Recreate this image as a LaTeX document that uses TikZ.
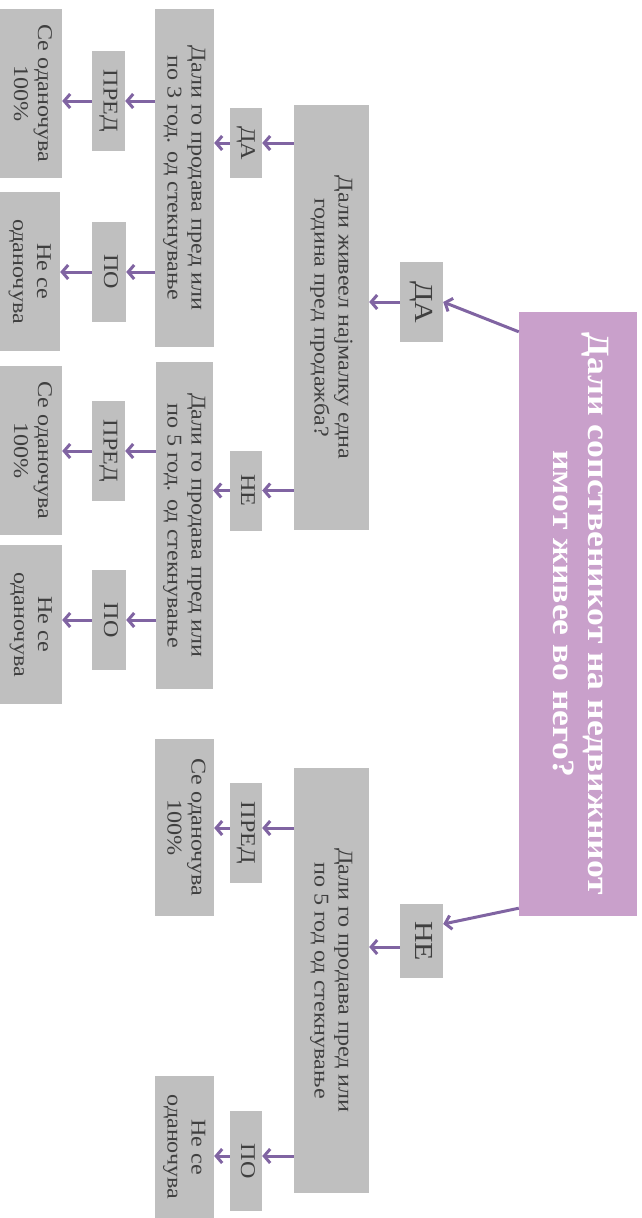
\documentclass[tikz,border=0pt]{standalone}
\usepackage{fontspec}
\setmainfont[FakeStretch=1.15]{Liberation Serif}
\usetikzlibrary{arrows.meta}
\definecolor{boxgray}{HTML}{BFBFBF}
\definecolor{txtgray}{HTML}{3F3F3F}
\definecolor{rootfill}{HTML}{C9A0CB}
\definecolor{arrcol}{HTML}{8064A2}
\newcommand{\vtext}[1]{\rotatebox{-90}{\begin{tabular}{@{}c@{}}#1\end{tabular}}}
\tikzset{
  gbox/.style={fill=boxgray, inner sep=0pt, text=txtgray, font=\fontsize{21}{24}\selectfont},
  lbl/.style={gbox, font=\fontsize{21}{24}\selectfont},
  biglbl/.style={gbox, font=\fontsize{26}{28}\selectfont},
  rootbox/.style={fill=rootfill, inner sep=0pt, text=white, font=\fontsize{31}{35}\selectfont\bfseries},
  arr/.style={draw=arrcol, line width=3pt, -{Straight Barb[length=6pt,width=14pt]}},
}
\newcommand{\bx}[7]{\node[#1, minimum width=#5pt, minimum height=#6pt] (#2) at (#3,#4) {\vtext{#7}};}
\begin{document}
\begin{tikzpicture}[x=1pt,y=-1pt]
\useasboundingbox (0,0) rectangle (642,1218);
\bx{rootbox}{root}{578}{614}{118}{604}{Дали сопственикот на недвижниот\\имот живее во него?}
\bx{biglbl}{da1}{421.5}{302}{43}{80}{ДА}
\bx{biglbl}{ne1}{421.5}{941}{43}{74}{НЕ}
\bx{gbox}{q1}{331.5}{317.5}{75}{425}{Дали живеел најмалку една\\година пред продажба?}
\bx{gbox}{q2}{331.5}{980.5}{75}{425}{Дали го продава пред или\\по 5 год од стекнување}
\bx{lbl}{da3}{246}{143}{32}{70}{ДА}
\bx{lbl}{ne3}{246}{490.5}{32}{80}{НЕ}
\bx{gbox}{q3}{184.5}{178}{59}{338}{Дали го продава пред или\\по 3 год. од стекнување}
\bx{gbox}{q4}{184.5}{525.5}{57}{327}{Дали го продава пред или\\по 5 год. од стекнување}
\bx{lbl}{p1}{108.5}{101}{33}{100}{ПРЕД}
\bx{lbl}{o1}{109}{272}{34}{100}{ПО}
\bx{gbox}{l1}{31}{93.5}{62}{169}{Се оданочува\\100\%}
\bx{gbox}{l2}{30}{271.5}{60}{159}{Не се\\оданочува}
\bx{lbl}{p2}{108.5}{451}{33}{100}{ПРЕД}
\bx{lbl}{o2}{109}{620}{34}{100}{ПО}
\bx{gbox}{l3}{31}{450.5}{62}{169}{Се оданочува\\100\%}
\bx{gbox}{l4}{31}{624.5}{62}{159}{Не се\\оданочува}
\bx{lbl}{p3}{246}{833}{32}{100}{ПРЕД}
\bx{lbl}{o3}{246}{1161}{32}{100}{ПО}
\bx{gbox}{l5}{184.5}{827.5}{59}{177}{Се оданочува\\100\%}
\bx{gbox}{l6}{184.5}{1147}{59}{142}{Не се\\оданочува}
% anchor helpers
\coordinate (rtA) at ([yshift=-20pt]root.north west);
\coordinate (rtB) at ([yshift=8pt]root.south west);
\coordinate (neIn) at ([yshift=17pt]ne1.east);
\coordinate (neOut) at ([yshift=-6pt]ne1.west);
\coordinate (p3in) at ([yshift=5pt]p3.east);
\coordinate (p3out) at ([yshift=5pt]p3.west);
\coordinate (o3in) at ([yshift=5pt]o3.east);
\coordinate (o3out) at ([yshift=5pt]o3.west);
% connectors
\draw[arr] (rtA) -- (da1.east);
\draw[arr] (rtB) -- (neIn);
\draw[arr] (da1.west) -- (q1.east |- da1.west);
\draw[arr] (neOut) -- (q2.east |- neOut);
\draw[arr] (q1.west |- da3.east) -- (da3.east);
\draw[arr] (q1.west |- ne3.east) -- (ne3.east);
\draw[arr] (da3.west) -- (q3.east |- da3.west);
\draw[arr] (ne3.west) -- (q4.east |- ne3.west);
\draw[arr] (q3.west |- p1.east) -- (p1.east);
\draw[arr] (q3.west |- o1.east) -- (o1.east);
\draw[arr] (p1.west) -- (l1.east |- p1.west);
\draw[arr] (o1.west) -- (l2.east |- o1.west);
\draw[arr] (q4.west |- p2.east) -- (p2.east);
\draw[arr] (q4.west |- o2.east) -- (o2.east);
\draw[arr] (p2.west) -- (l3.east |- p2.west);
\draw[arr] (o2.west) -- (l4.east |- o2.west);
\draw[arr] (q2.west |- p3in) -- (p3in);
\draw[arr] (q2.west |- o3in) -- (o3in);
\draw[arr] (p3out) -- (l5.east |- p3out);
\draw[arr] (o3out) -- (l6.east |- o3out);
\end{tikzpicture}
\end{document}
